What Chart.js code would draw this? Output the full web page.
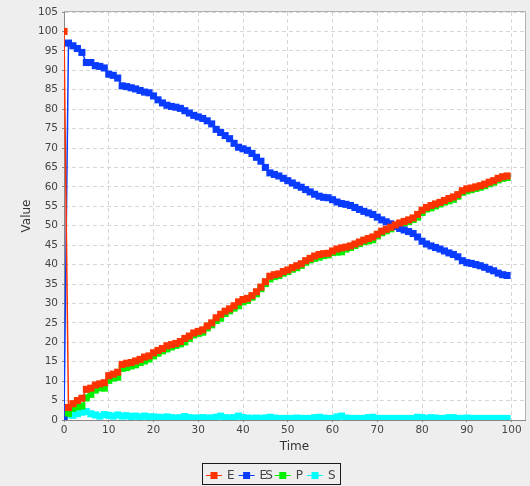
<!DOCTYPE html>
<html>
<head>
<meta charset="utf-8">
<script src="https://cdn.jsdelivr.net/npm/chart.js@4/dist/chart.umd.min.js"></script>
<style>
  html, body { margin: 0; padding: 0; background: #eeeeee; }
  #wrap { width: 530px; height: 486px; position: relative; }
</style>
</head>
<body>
<div id="wrap"><canvas id="c" width="530" height="486"></canvas></div>
<script>
// Simulation time steps 0..99
const time = Array.from({ length: 100 }, (_, i) => i);

// Free enzyme
const seriesE = [
  100, 3.2, 4.2, 5.0, 5.6, 7.9, 8.2, 9.0, 9.3, 9.6,
  11.4, 11.8, 12.3, 14.3, 14.6, 14.8, 15.2, 15.6, 16.2, 16.5,
  17.3, 17.9, 18.4, 19.1, 19.4, 19.7, 20.2, 21.0, 21.6, 22.4,
  22.8, 23.2, 24.2, 25.0, 26.3, 27.2, 28.0, 28.6, 29.4, 30.4,
  31.0, 31.3, 32.0, 33.0, 34.2, 35.6, 37.0, 37.4, 37.6, 38.2,
  38.6, 39.2, 39.7, 40.2, 41.0, 41.6, 42.2, 42.6, 42.8, 42.9,
  43.5, 44.0, 44.3, 44.5, 44.8, 45.3, 45.8, 46.3, 46.7, 47.1,
  47.8, 48.6, 49.1, 49.6, 50.2, 50.7, 51.1, 51.5, 52.0, 52.9,
  54.0, 54.7, 55.2, 55.6, 56.0, 56.5, 57.0, 57.4, 58.0, 59.0,
  59.5, 59.7, 60.0, 60.3, 60.7, 61.2, 61.6, 62.2, 62.6, 62.8
];

// Enzyme-substrate complex
const seriesES = [
  0, 97.0, 96.3, 95.6, 94.6, 92.0, 92.0, 91.2, 91.0, 90.6,
  89.0, 88.7, 88.0, 86.0, 85.8, 85.5, 85.2, 84.8, 84.4, 84.2,
  83.4, 82.4, 81.6, 81.0, 80.7, 80.5, 80.2, 79.6, 79.0, 78.4,
  78.0, 77.6, 77.0, 76.2, 74.8, 74.0, 73.2, 72.4, 71.2, 70.2,
  69.8, 69.4, 68.6, 67.6, 66.6, 65.0, 63.6, 63.2, 62.8, 62.2,
  61.6, 61.0, 60.4, 59.9, 59.3, 58.7, 58.1, 57.6, 57.3, 57.2,
  56.7, 56.1, 55.7, 55.5, 55.2, 54.7, 54.2, 53.7, 53.3, 52.9,
  52.2, 51.5, 51.0, 50.5, 49.8, 49.3, 48.9, 48.5, 48.0, 47.1,
  46.0, 45.3, 44.8, 44.4, 44.0, 43.5, 43.0, 42.6, 42.0, 41.0,
  40.5, 40.3, 40.0, 39.7, 39.3, 38.8, 38.4, 37.8, 37.4, 37.2
];

// Product
const seriesP = [
  0, 1.7, 3.0, 3.4, 3.6, 5.7, 6.6, 7.7, 8.3, 8.2,
  10.2, 10.8, 11.0, 13.3, 13.5, 13.9, 14.2, 14.8, 15.2, 15.7,
  16.5, 17.2, 17.8, 18.3, 18.8, 19.2, 19.6, 20.1, 21.0, 21.9,
  22.3, 22.6, 23.7, 24.5, 25.6, 26.2, 27.4, 28.1, 28.8, 29.4,
  30.4, 30.8, 31.6, 32.5, 33.8, 35.1, 36.3, 36.9, 37.2, 37.8,
  38.2, 38.8, 39.2, 39.8, 40.6, 41.2, 41.6, 41.9, 42.3, 42.5,
  43.1, 43.2, 43.3, 44.0, 44.4, 44.9, 45.4, 45.9, 46.1, 46.4,
  47.4, 48.2, 48.7, 49.2, 49.8, 50.3, 50.7, 51.1, 51.6, 52.2,
  53.4, 54.3, 54.6, 55.1, 55.6, 56.1, 56.4, 56.8, 57.6, 58.6,
  59.0, 59.3, 59.6, 59.9, 60.3, 60.8, 61.2, 61.8, 62.2, 62.4
];

// Substrate
const seriesS = [
  0, 1.5, 1.2, 1.6, 2.0, 2.2, 1.6, 1.3, 1.0, 1.4,
  1.2, 1.0, 1.3, 1.0, 1.1, 0.9, 1.0, 0.8, 1.0, 0.8,
  0.8, 0.7, 0.6, 0.8, 0.6, 0.5, 0.6, 0.9, 0.6, 0.5,
  0.5, 0.6, 0.5, 0.5, 0.7, 1.0, 0.6, 0.5, 0.6, 1.0,
  0.6, 0.5, 0.4, 0.5, 0.4, 0.5, 0.7, 0.5, 0.4, 0.4,
  0.4, 0.4, 0.5, 0.4, 0.4, 0.4, 0.6, 0.7, 0.5, 0.4,
  0.4, 0.8, 1.0, 0.5, 0.4, 0.4, 0.4, 0.4, 0.6, 0.7,
  0.4, 0.4, 0.4, 0.4, 0.4, 0.4, 0.4, 0.4, 0.4, 0.7,
  0.6, 0.4, 0.6, 0.5, 0.4, 0.4, 0.6, 0.6, 0.4, 0.4,
  0.5, 0.4, 0.4, 0.4, 0.4, 0.4, 0.4, 0.4, 0.4, 0.4
];

const seriesNames = ['E', 'ES', 'P', 'S'];
const seriesColors = ['#ff3300', '#0a3cff', '#00f000', '#00ffff'];
const xTickStep = 10;
const yTickStep = 5;

const FONT = "'DejaVu Sans', 'Liberation Sans', sans-serif";

function toPoints(values) {
  return values.map((v, i) => ({ x: time[i], y: v }));
}

const datasets = [seriesE, seriesES, seriesP, seriesS].map((vals, k) => ({
  label: seriesNames[k],
  data: toPoints(vals),
  borderColor: seriesColors[k],
  backgroundColor: seriesColors[k],
  borderWidth: 1.5,
  pointStyle: 'rect',
  pointRadius: 5,
  pointBorderWidth: 0,
  pointBackgroundColor: seriesColors[k],
  tension: 0,
  clip: 0
}));

// Plot background, outline and the framed legend underneath the axis
const frame = {
  id: 'frame',
  beforeDraw(chart) {
    const { ctx, chartArea: a } = chart;
    ctx.save();
    ctx.fillStyle = '#eeeeee';
    ctx.fillRect(0, 0, chart.width, chart.height);
    ctx.fillStyle = '#ffffff';
    ctx.fillRect(a.left, a.top, a.right - a.left, a.bottom - a.top);
    ctx.restore();
  },
  afterDatasetsDraw(chart) {
    const { ctx, chartArea: a } = chart;
    ctx.save();
    ctx.strokeStyle = '#b0b0b0';
    ctx.lineWidth = 1;
    ctx.beginPath();
    ctx.moveTo(a.left, Math.round(a.top) - 0.5);
    ctx.lineTo(Math.round(a.right) + 0.5, Math.round(a.top) - 0.5);
    ctx.lineTo(Math.round(a.right) + 0.5, a.bottom);
    ctx.stroke();
    ctx.restore();
  },
  afterDraw(chart) {
    const ctx = chart.ctx;
    const ds = chart.data.datasets;
    const cy = 475;
    let x = 206;
    ctx.save();
    ctx.font = '12px ' + FONT;
    ctx.textBaseline = 'middle';
    ctx.textAlign = 'left';
    const startX = 202.5;
    for (let k = 0; k < ds.length; k++) {
      const col = ds[k].borderColor;
      ctx.strokeStyle = col;
      ctx.lineWidth = 1;
      ctx.beginPath();
      ctx.moveTo(x, cy + 0.5);
      ctx.lineTo(x + 16, cy + 0.5);
      ctx.stroke();
      ctx.fillStyle = col;
      ctx.fillRect(x + 4.5, cy - 3, 7, 7);
      ctx.fillStyle = '#444444';
      const label = ds[k].label;
      ctx.letterSpacing = label.length > 1 ? '-2px' : '0px';
      ctx.fillText(label, x + 21, cy + 1);
      const w = ctx.measureText(label).width;
      x = x + 21 + w + 4;
    }
    ctx.letterSpacing = '0px';
    ctx.strokeStyle = '#1a1a1a';
    ctx.lineWidth = 1;
    ctx.strokeRect(startX, 463.5, Math.round(x + 1 - startX), 21);
    ctx.restore();
  }
};

new Chart(document.getElementById('c'), {
  type: 'line',
  data: { datasets },
  options: {
    responsive: false,
    devicePixelRatio: 1,
    animation: false,
    events: [],
    layout: { padding: { left: 0, right: 3, top: 12, bottom: 26 } },
    plugins: {
      legend: { display: false },
      tooltip: { enabled: false }
    },
    scales: {
      x: {
        type: 'linear',
        min: 0,
        max: 103,
        ticks: {
          stepSize: xTickStep,
          includeBounds: false,
          color: '#444444',
          font: { family: FONT, size: 10.5 },
          padding: 2,
          maxRotation: 0
        },
        grid: {
          color: '#d6d6d6',
          lineWidth: 1,
          tickLength: 2,
          tickColor: '#888888',
          tickBorderDash: []
        },
        border: { display: true, color: '#888888', width: 1, dash: [4, 3] },
        title: {
          display: true,
          text: 'Time',
          color: '#333333',
          font: { family: FONT, size: 12 },
          padding: { top: 0, bottom: 6 }
        },
        afterFit(scale) { scale.height = 40; }
      },
      y: {
        type: 'linear',
        min: 0,
        max: 105,
        ticks: {
          stepSize: yTickStep,
          color: '#444444',
          font: { family: FONT, size: 10.5 },
          padding: 4
        },
        grid: {
          color: '#d6d6d6',
          lineWidth: 1,
          tickLength: 2,
          tickColor: '#888888',
          tickBorderDash: []
        },
        border: { display: true, color: '#888888', width: 1, dash: [4, 3] },
        title: {
          display: true,
          text: 'Value',
          color: '#333333',
          font: { family: FONT, size: 12 },
          padding: { top: 20, bottom: 0 }
        },
        afterFit(scale) { scale.width = 64; }
      }
    }
  },
  plugins: [frame]
});
</script>
</body>
</html>
